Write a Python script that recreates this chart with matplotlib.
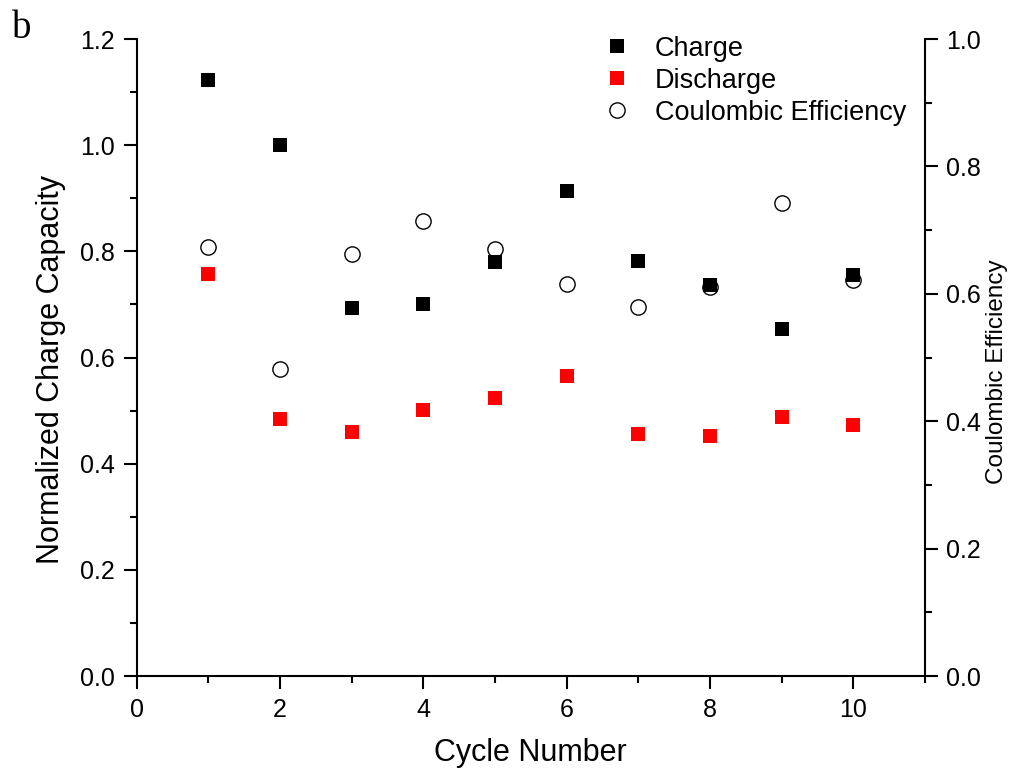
import matplotlib
matplotlib.use("Agg")
import matplotlib.pyplot as plt
from matplotlib.ticker import MultipleLocator

plt.rcParams['font.family'] = ['Liberation Sans', 'DejaVu Sans']

cycles = [1, 2, 3, 4, 5, 6, 7, 8, 9, 10]
charge = [1.123, 1.000, 0.693, 0.701, 0.779, 0.914, 0.781, 0.736, 0.653, 0.755]
discharge = [0.757, 0.484, 0.460, 0.502, 0.523, 0.566, 0.455, 0.453, 0.487, 0.472]
coulombic = [0.674, 0.482, 0.663, 0.715, 0.670, 0.616, 0.580, 0.611, 0.743, 0.622]

fig = plt.figure(figsize=(10.12, 7.71), dpi=100)
ax = fig.add_axes([0.1349, 0.1232, 0.914 - 0.1349, 0.9494 - 0.1232])
ax2 = ax.twinx()

h1, = ax.plot(cycles, charge, linestyle='none', marker='s', ms=10, color='black',
              markeredgewidth=0, label='Charge')
h2, = ax.plot(cycles, discharge, linestyle='none', marker='s', ms=10, color='#ff0000',
              markeredgewidth=0, label='Discharge')
h3, = ax2.plot(cycles, coulombic, linestyle='none', marker='o', ms=11, markerfacecolor='none',
               markeredgecolor='black', markeredgewidth=1.0, label='Coulombic Efficiency')

ax.set_xlim(0, 11)
ax.set_ylim(0, 1.2)
ax2.set_ylim(0, 1.0)

ax.xaxis.set_major_locator(MultipleLocator(2))
ax.xaxis.set_minor_locator(MultipleLocator(1))
ax.yaxis.set_major_locator(MultipleLocator(0.2))
ax.yaxis.set_minor_locator(MultipleLocator(0.1))
ax2.yaxis.set_major_locator(MultipleLocator(0.2))
ax2.yaxis.set_minor_locator(MultipleLocator(0.1))
ax.yaxis.set_major_formatter(plt.FormatStrFormatter('%.1f'))
ax2.yaxis.set_major_formatter(plt.FormatStrFormatter('%.1f'))

for a in (ax, ax2):
    a.spines['top'].set_visible(False)
    for s in a.spines.values():
        s.set_linewidth(1.5)
ax.spines['right'].set_visible(False)
ax2.spines['left'].set_visible(False)
ax2.spines['bottom'].set_visible(False)

ax.tick_params(axis='both', which='major', direction='out', length=9.5, width=1.5,
               labelsize=18, pad=6)
ax.tick_params(axis='both', which='minor', direction='out', length=5, width=1.5)
ax.tick_params(axis='y', which='both', right=False)
ax.tick_params(axis='x', which='both', top=False)
ax2.tick_params(axis='y', which='major', direction='out', length=9.5, width=1.5,
                labelsize=18, pad=6)
ax2.tick_params(axis='y', which='minor', direction='out', length=5, width=1.5)

ax.set_xlabel('Cycle Number', fontsize=22, labelpad=12)
fig.text(51 / 1012, 1 - 370 / 771, 'Normalized Charge Capacity', fontsize=22,
         rotation=90, ha='center', va='center')
fig.text(997 / 1012, 1 - 372 / 771, 'Coulombic Efficiency', fontsize=17.5,
         rotation=90, ha='center', va='center')

leg = ax.legend(handles=[h1, h2, h3], loc='upper right', bbox_to_anchor=(1.0, 1.035),
                frameon=False, fontsize=19.5, handletextpad=0.8, labelspacing=0.22,
                handlelength=1.2, borderaxespad=0.3)

fig.text(0.012, 0.963, 'b', fontsize=28, family=['Liberation Serif'], va='center', ha='left')

fig.savefig('out.png', dpi=100)
